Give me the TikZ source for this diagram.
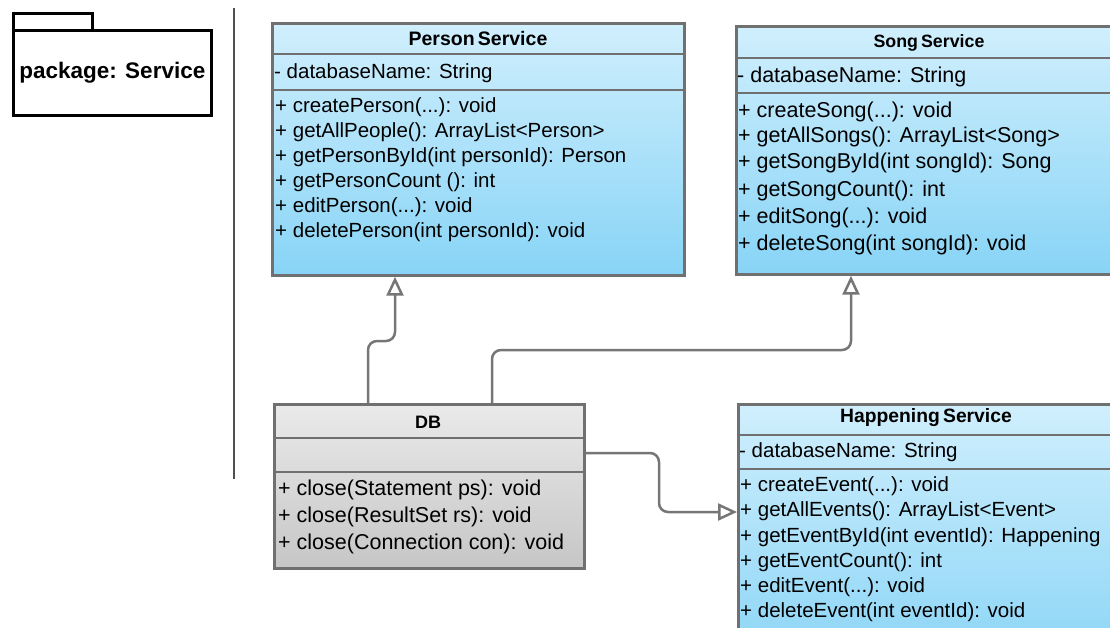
\documentclass[tikz,border=0pt]{standalone}
\usepackage{fontspec}
\setmainfont{Liberation Sans}
\usetikzlibrary{arrows.meta}
\definecolor{bluetop}{RGB}{208,239,253}
\definecolor{bluebot}{RGB}{136,212,246}
\definecolor{graytop}{RGB}{234,234,234}
\definecolor{graybot}{RGB}{198,198,198}
\definecolor{edgecol}{RGB}{112,112,112}
\definecolor{conncol}{RGB}{118,118,118}
\definecolor{divcol}{RGB}{80,80,80}
\tikzset{
  classbox/.style={draw=edgecol, line width=2.7pt, anchor=north west, inner sep=0pt,
    top color=bluetop, bottom color=bluebot},
  dbbox/.style={classbox, top color=graytop, bottom color=graybot},
  sepline/.style={draw=edgecol, line width=2.7pt},
  clstitle/.style={font=\bfseries\fontsize{#1}{20}\selectfont, inner sep=0pt},
  clstitle/.default=17.5,
  mbr/.style={font=\fontsize{#1}{23}\selectfont, anchor=west, inner sep=0pt},
  mbr/.default=20.5,
  connector/.style={draw=conncol, line width=2.5pt, rounded corners=9pt,
    -{Triangle[length=19pt,width=17pt,fill=white]}},
  pkgline/.style={draw=black, line width=2.7pt, inner sep=0pt},
}
\begin{document}
\begin{tikzpicture}[x=1pt,y=-1pt]
\useasboundingbox (0,0) rectangle (1110,628);
\clip (0,0) rectangle (1110,628);

% package symbol
\node[pkgline, anchor=north west, minimum width=79pt, minimum height=17pt] (pkgtab) at (12,12) {};
\node[pkgline, anchor=north west, minimum width=198pt, minimum height=85pt,
      font=\bfseries\fontsize{22.5}{26}\selectfont] (pkg) at (12,29) {package: Service};

% divider
\draw[divcol, line width=1.7pt] (234,8) -- (234,479);

% PersonService
\node[classbox, minimum width=412pt, minimum height=252pt] (ps) at (271,22) {};
\draw[sepline] (ps.west |- 0,54) -- (ps.east |- 0,54);
\draw[sepline] (ps.west |- 0,90) -- (ps.east |- 0,90);
\node[clstitle=19.5] (pst) at (478,39) {Person\,Service};
\node[mbr] (psa) at (274,73) {- databaseName: String};
\node[mbr] (psm1) at (275,107) {+ createPerson(...): void};
\node[mbr] (psm2) at (275,132) {+ getAllPeople(): ArrayList<Person>};
\node[mbr] (psm3) at (275,157) {+ getPersonById(int personId): Person};
\node[mbr] (psm4) at (275,182) {+ getPersonCount (): int};
\node[mbr] (psm5) at (275,207) {+ editPerson(...): void};
\node[mbr] (psm6) at (275,232) {+ deletePerson(int personId): void};

% SongService
\node[classbox, minimum width=388pt, minimum height=248pt] (ss) at (735,25) {};
\draw[sepline] (ss.west |- 0,58) -- (ss.east |- 0,58);
\draw[sepline] (ss.west |- 0,93) -- (ss.east |- 0,93);
\node[clstitle=17.8] (sst) at (929,43) {Song\,Service};
\node[mbr=21.5] (ssa) at (737,77) {- databaseName: String};
\node[mbr=21.5] (ssm1) at (738,112) {+ createSong(...): void};
\node[mbr=21.5] (ssm2) at (738,137) {+ getAllSongs(): ArrayList<Song>};
\node[mbr=21.5] (ssm3) at (738,163) {+ getSongById(int songId): Song};
\node[mbr=21.5] (ssm4) at (738,191) {+ getSongCount(): int};
\node[mbr=21.5] (ssm5) at (738,218) {+ editSong(...): void};
\node[mbr=21.5] (ssm6) at (738,245) {+ deleteSong(int songId): void};

% DB
\node[dbbox, minimum width=310pt, minimum height=164pt] (db) at (273,403) {};
\draw[sepline] (db.west |- 0,438) -- (db.east |- 0,438);
\draw[sepline] (db.west |- 0,472) -- (db.east |- 0,472);
\node[clstitle=18] (dbt) at (428,422) {DB};
\node[mbr=21.5] (dbm1) at (278,490) {+ close(Statement ps): void};
\node[mbr=21.5] (dbm2) at (278,517) {+ close(ResultSet rs): void};
\node[mbr=21.5] (dbm3) at (278,544) {+ close(Connection con): void};

% HappeningService
\node[classbox, minimum width=378pt, minimum height=268pt] (hs) at (737,403) {};
\draw[sepline] (hs.west |- 0,435) -- (hs.east |- 0,435);
\draw[sepline] (hs.west |- 0,469) -- (hs.east |- 0,469);
\node[clstitle=19.3] (hst) at (926,418) {Happening\,Service};
\node[mbr=20.5] (hsa) at (739,452) {- databaseName: String};
\node[mbr=20.5] (hsm1) at (740,486) {+ createEvent(...): void};
\node[mbr=20.5] (hsm2) at (740,511) {+ getAllEvents(): ArrayList<Event>};
\node[mbr=20.5] (hsm3) at (740,537) {+ getEventById(int eventId): Happening};
\node[mbr=20.5] (hsm4) at (740,562) {+ getEventCount(): int};
\node[mbr=20.5] (hsm5) at (740,587) {+ editEvent(...): void};
\node[mbr=20.5] (hsm6) at (740,612) {+ deleteEvent(int eventId): void};

% connectors
\draw[connector] (368,0 |- db.north) -- (368,341) -- (395,341) -- (395,0 |- ps.south);
\draw[connector] (492,0 |- db.north) -- (492,350) -- (851,350) -- (851,0 |- ss.south);
\draw[connector] (db.east |- 0,453) -- (659,453) -- (659,512) -- (hs.west |- 0,512);
\end{tikzpicture}
\end{document}
